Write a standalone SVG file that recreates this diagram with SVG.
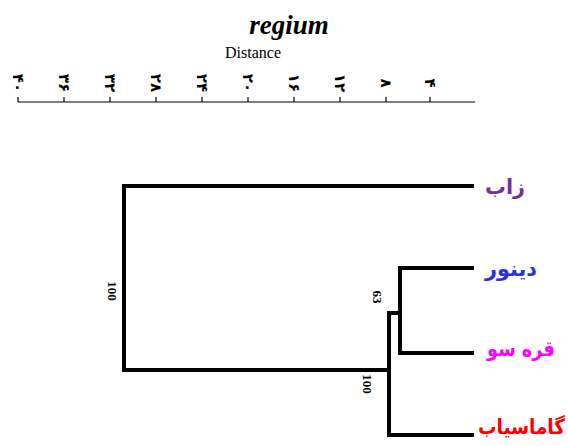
<svg xmlns="http://www.w3.org/2000/svg" width="568" height="446" viewBox="0 0 568 446">
<style>
.title{font-family:"Liberation Serif",serif;font-weight:bold;font-style:italic;font-size:27px;fill:#000}
.axt{font-family:"Liberation Serif",serif;font-size:16px;fill:#000}
.tick{stroke:#000;stroke-width:1.2;fill:none}
.dig{font-family:"DejaVu Sans",sans-serif;font-weight:bold;font-size:15px;fill:#000;text-anchor:middle}
.br{stroke:#000;stroke-width:4;fill:none;stroke-linecap:square}
.bs{font-family:"Liberation Serif",serif;font-weight:bold;font-size:13px;fill:#000;text-anchor:middle}
.leaf{font-family:"DejaVu Sans",sans-serif;font-weight:bold;font-size:21px}
</style>
<rect width="568" height="446" fill="#fff"/>
<text class="title" x="289" y="34" text-anchor="middle">regium</text>
<text class="axt" x="253" y="58" text-anchor="middle">Distance</text>
<g id="axis">
<path class="tick" d="M18,102H475M18,97V102M64,97V102M110,97V102M156,97V102M202,97V102M248,97V102M294,97V102M340,97V102M386,97V102M430,97V102"/>
<text class="dig" transform="translate(18,83) rotate(90)" dy="0.35em">۴۰</text>
<text class="dig" transform="translate(64,83) rotate(90)" dy="0.35em">۳۶</text>
<text class="dig" transform="translate(110,83) rotate(90)" dy="0.35em">۳۲</text>
<text class="dig" transform="translate(156,83) rotate(90)" dy="0.35em">۲۸</text>
<text class="dig" transform="translate(202,83) rotate(90)" dy="0.35em">۲۴</text>
<text class="dig" transform="translate(248,83) rotate(90)" dy="0.35em">۲۰</text>
<text class="dig" transform="translate(294,83) rotate(90)" dy="0.35em">۱۶</text>
<text class="dig" transform="translate(340,83) rotate(90)" dy="0.35em">۱۲</text>
<text class="dig" transform="translate(386,83) rotate(90)" dy="0.35em">۸</text>
<text class="dig" transform="translate(430,83) rotate(90)" dy="0.35em">۴</text>
</g>
<g id="connectors">
<path class="br" d="M472,186H124V370H389"/>
<path class="br" d="M389,435V313H400"/>
<path class="br" d="M472,268H400V353H472"/>
<path class="br" d="M389,435H472"/>
</g>
<g id="support">
<text class="bs" transform="translate(113,291) rotate(90)" dy="0.35em">100</text>
<text class="bs" transform="translate(378,297) rotate(90)" dy="0.35em">63</text>
<text class="bs" transform="translate(368,384) rotate(90)" dy="0.35em">100</text>
</g>
<g id="n-zab"><text class="leaf" x="485" y="194" fill="#7030A0" textLength="40" lengthAdjust="spacingAndGlyphs">زاب</text></g>
<g id="n-dinevar"><text class="leaf" x="485" y="276" fill="#2B2BE8" textLength="52" lengthAdjust="spacingAndGlyphs">دینور</text></g>
<g id="n-qaresu"><text class="leaf" x="487" y="356" fill="#FF00FF" textLength="68" lengthAdjust="spacingAndGlyphs">قره سو</text></g>
<g id="n-gamasiab"><text class="leaf" x="478" y="434" fill="#FF0000" font-size="20" textLength="87" lengthAdjust="spacingAndGlyphs">گاماسیاب</text></g>
</svg>
